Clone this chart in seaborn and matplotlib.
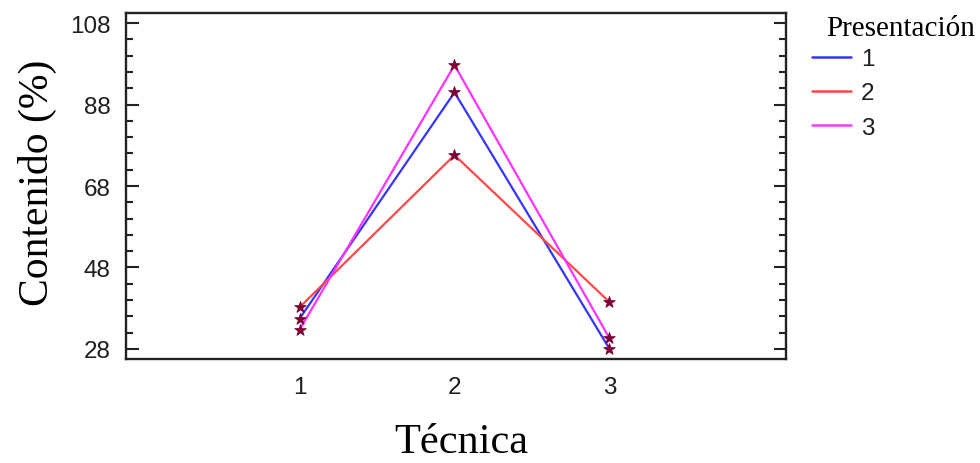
import matplotlib
matplotlib.use("Agg")
import matplotlib.pyplot as plt
from matplotlib.ticker import FixedLocator
import seaborn as sns
import pandas as pd

# Contenido (%) por técnica para cada presentación
tecnicas = [1, 2, 3]
presentacion_1 = [35.4, 91.0, 28.0]
presentacion_2 = [38.2, 75.6, 39.5]
presentacion_3 = [32.7, 97.7, 30.6]
presentaciones = ["1", "2", "3"]
colores = ["#3535ff", "#ff4848", "#ff33ff"]
y_ticks = [28, 48, 68, 88, 108]

series = [presentacion_1, presentacion_2, presentacion_3]
df = pd.DataFrame(
    [
        {"Técnica": t, "Presentación": p, "Contenido": v}
        for p, vals in zip(presentaciones, series)
        for t, v in zip(tecnicas, vals)
    ]
)

sns.set_theme(style="white")
plt.rcParams["font.family"] = ["Liberation Sans", "DejaVu Sans"]

fig = plt.figure(figsize=(9.8, 4.64), dpi=100)
ax = fig.add_axes([0.1286, 0.2241, 0.6735, 0.7457])

sns.lineplot(
    data=df, x="Técnica", y="Contenido", hue="Presentación",
    palette=dict(zip(presentaciones, colores)), linewidth=1.6,
    ax=ax, legend=False,
)
sns.scatterplot(
    data=df, x="Técnica", y="Contenido", color="#7d0035",
    marker="*", s=75, edgecolor="#7d0035", linewidth=0.6,
    ax=ax, legend=False, zorder=5,
)

ax.set_xlim(-0.12, 4.14)
ax.set_ylim(25.5, 110.5)
ax.set_xticks(tecnicas)
ax.set_xticklabels([str(t) for t in tecnicas])
ax.set_yticks(y_ticks)
ax.yaxis.set_minor_locator(FixedLocator(list(range(28, 109, 4))))

ax.tick_params(axis="y", which="major", direction="in", length=9, width=1.5,
               left=True, right=True, labelsize=17.5, labelcolor="#1e1e1e",
               pad=11, color="#222222")
ax.tick_params(axis="y", which="minor", direction="in", length=5, width=1.5,
               left=True, right=True, color="#222222")
ax.tick_params(axis="x", which="both", length=0, labelsize=17.5,
               labelcolor="#1e1e1e", pad=12)

for s in ax.spines.values():
    s.set_linewidth(1.7)
    s.set_color("#222222")
    s.set_visible(True)

ax.set_xlabel("Técnica", family=["Liberation Serif", "DejaVu Serif"],
              fontsize=30.5, color="black")
ax.set_ylabel("Contenido (%)", family=["Liberation Serif", "DejaVu Serif"],
              fontsize=30, color="black")
ax.xaxis.set_label_coords(0.508, -0.183)
ax.yaxis.set_label_coords(-0.105, 0.513)

handles = [plt.Line2D([], [], color=c, linewidth=1.8) for c in colores]
fig.legend(handles, presentaciones, loc="upper left",
           bbox_to_anchor=(0.8286, 0.894), frameon=False, borderpad=0,
           borderaxespad=0, fontsize=17.5, handlelength=1.6,
           handletextpad=0.4, labelspacing=0.5, labelcolor="#1e1e1e")
fig.text(0.843, 0.937, "Presentación", family=["Liberation Serif", "DejaVu Serif"],
         fontsize=21, ha="left", va="center", color="black")

fig.savefig("out.png", dpi=100, facecolor="white")
